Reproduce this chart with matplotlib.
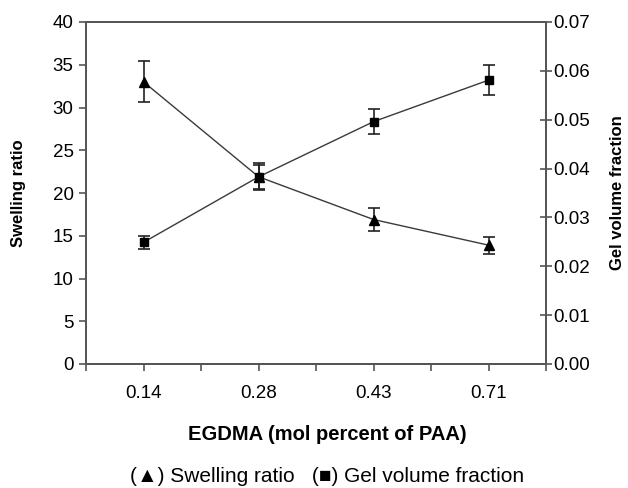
import matplotlib
matplotlib.use("Agg")
import matplotlib.pyplot as plt
from matplotlib.ticker import FormatStrFormatter, FixedLocator

plt.rcParams['font.family'] = ['Liberation Sans', 'DejaVu Sans']

categories = ["0.14", "0.28", "0.43", "0.71"]
swelling = [33.0, 21.9, 16.9, 13.9]
swelling_err = [2.4, 1.6, 1.3, 1.0]
gel_frac = [0.0249, 0.0383, 0.0496, 0.0581]
gel_err = [0.0013, 0.0025, 0.0025, 0.0030]

W, H = 628, 488
fig = plt.figure(figsize=(W / 100, H / 100), dpi=100)
ax = fig.add_axes([86 / W, 1 - 364 / H, 460 / W, 342 / H])
ax2 = ax.twinx()

x = list(range(len(categories)))
line_col = '#3a3a3a'
spine_col = '#555555'

ax.errorbar(x, swelling, yerr=swelling_err, color=line_col, lw=1.0,
            marker='^', ms=7.5, mfc='black', mec='black',
            ecolor='#222222', elinewidth=1.2, capsize=4, capthick=1.2)
ax2.errorbar(x, gel_frac, yerr=gel_err, color=line_col, lw=1.0,
             marker='s', ms=6, mfc='black', mec='black',
             ecolor='#222222', elinewidth=1.2, capsize=4, capthick=1.2)

ax.set_xlim(-0.5, 3.5)
ax.set_ylim(0, 40)
ax2.set_ylim(0, 0.07)

ax.set_xticks(x)
ax.set_xticklabels(categories)
ax.xaxis.set_minor_locator(FixedLocator([-0.5, 0.5, 1.5, 2.5, 3.5]))
ax.set_yticks(range(0, 41, 5))
ax2.set_yticks([i * 0.01 for i in range(8)])
ax2.yaxis.set_major_formatter(FormatStrFormatter('%.2f'))

for a in (ax, ax2):
    for s in a.spines.values():
        s.set_color(spine_col)
        s.set_linewidth(1.3)

ax.tick_params(axis='x', which='both', direction='out', length=5, width=1.2,
               color=spine_col, labelsize=13.5, pad=10)
ax.tick_params(axis='y', direction='out', length=5, width=1.2,
               color=spine_col, labelsize=13.5, pad=4)
ax2.tick_params(axis='y', direction='inout', length=8, width=1.2,
                color=spine_col, labelsize=13.5, pad=1)

ax.set_ylabel('Swelling ratio', fontsize=12, fontweight='bold', va='center')
ax.yaxis.set_label_coords((19 - 86) / 460, 0.5)
ax2.set_ylabel('Gel volume fraction', fontsize=12, fontweight='bold', va='center')
ax2.yaxis.set_label_coords((617 - 86) / 460, 0.5)
ax.set_xlabel('EGDMA (mol percent of PAA)', fontsize=14.5, fontweight='bold', va='center')
ax.xaxis.set_label_coords((327 - 86) / 460, -(435 - 364) / 342)

fig.text(327 / W, 1 - 476 / H, '(\u25b2) Swelling ratio   (\u25a0) Gel volume fraction',
         ha='center', va='center', fontsize=15)

fig.savefig('out.png', dpi=100)
